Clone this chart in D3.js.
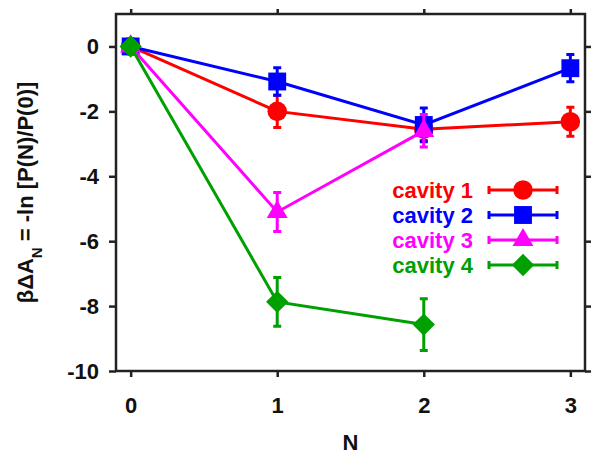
<!DOCTYPE html>
<html>
<head>
<meta charset="utf-8">
<script src="https://cdn.jsdelivr.net/npm/d3@7"></script>
<style>
  body { margin: 0; background: #fff; }
  text { font-family: "Liberation Sans", Arial, sans-serif; font-weight: bold; }
</style>
</head>
<body>
<div id="chart"></div>
<script>
var svgWidth = 600;
var svgHeight = 456;

var margin = { top: 14, right: 15, bottom: 85, left: 116 };
var width = svgWidth - margin.left - margin.right;
var height = svgHeight - margin.top - margin.bottom;

// data
var nValues = [0, 1, 2, 3];
var xTicks = [0, 1, 2, 3];
var yTicks = [0, -2, -4, -6, -8, -10];

var cavity1 = [0, -2.0, -2.55, -2.32];
var cavity1Err = [0.1, 0.5, 0.35, 0.45];
var cavity2 = [0, -1.08, -2.42, -0.67];
var cavity2Err = [0.15, 0.42, 0.52, 0.42];
var cavity3 = [0, -5.1, -2.6];
var cavity3Err = [0.15, 0.6, 0.5];
var cavity4 = [0, -7.87, -8.57];
var cavity4Err = [0.1, 0.75, 0.8];

var seriesNames = ["cavity 1", "cavity 2", "cavity 3", "cavity 4"];
var seriesColors = ["#ff0000", "#0000ff", "#ff00ff", "#00a000"];

var series = [
    { name: seriesNames[0], color: seriesColors[0], vals: cavity1, errs: cavity1Err, shape: "circle" },
    { name: seriesNames[1], color: seriesColors[1], vals: cavity2, errs: cavity2Err, shape: "square" },
    { name: seriesNames[2], color: seriesColors[2], vals: cavity3, errs: cavity3Err, shape: "triangle" },
    { name: seriesNames[3], color: seriesColors[3], vals: cavity4, errs: cavity4Err, shape: "diamond" }
];

var svg = d3.select("#chart")
    .append("svg")
    .attr("width", svgWidth)
    .attr("height", svgHeight);

var chartGroup = svg.append("g")
    .attr("transform", `translate(${margin.left}, ${margin.top})`);

var xScale = d3.scaleLinear().domain([-0.1, 3.1]).range([0, width]);
var yScale = d3.scaleLinear().domain([-10, 1]).range([height, 0]);

/********************************************************/

function markerPath(shape) {
    if (shape == "circle") return d3.symbol(d3.symbolCircle, 300)();
    if (shape == "square") return d3.symbol(d3.symbolSquare, 320)();
    if (shape == "triangle") return d3.symbol(d3.symbolTriangle, 190)();
    return d3.symbol(d3.symbolSquare, 250)();
}

function markerRotate(shape) {
    return shape == "diamond" ? " rotate(45)" : "";
}

/********************************************************/

// axes with outward ticks on all four sides
chartGroup.append("g")
    .attr("transform", `translate(0, ${height})`)
    .call(d3.axisBottom(xScale).tickValues(xTicks).tickSize(6).tickPadding(20).tickFormat(d => String(d)))
    .call(g => g.select(".domain").remove());

chartGroup.append("g")
    .call(d3.axisTop(xScale).tickValues(xTicks).tickSize(5).tickFormat(""))
    .call(g => g.select(".domain").remove());

chartGroup.append("g")
    .call(d3.axisLeft(yScale).tickValues(yTicks).tickSize(7).tickPadding(10).tickFormat(d => String(d)))
    .call(g => g.select(".domain").remove());

chartGroup.append("g")
    .attr("transform", `translate(${width}, 0)`)
    .call(d3.axisRight(yScale).tickValues(yTicks).tickSize(6).tickFormat(""))
    .call(g => g.select(".domain").remove());

chartGroup.selectAll(".tick line").attr("stroke", "#222").attr("stroke-width", 2.5);
chartGroup.selectAll(".tick text")
    .attr("font-size", 22)
    .attr("font-family", "'Liberation Sans', Arial, sans-serif")
    .attr("font-weight", "bold")
    .attr("fill", "#111");

chartGroup.append("rect")
    .attr("width", width)
    .attr("height", height)
    .attr("fill", "none")
    .attr("stroke", "#222")
    .attr("stroke-width", 2.5);

/********************************************************/

var line = d3.line()
    .x((d, i) => xScale(nValues[i]))
    .y(d => yScale(d));

series.forEach(function (s) {
    var g = chartGroup.append("g");
    var pts = s.vals.map((v, i) => ({ n: nValues[i], v: v, e: s.errs[i] }));

    g.append("path")
        .datum(s.vals)
        .attr("d", line)
        .attr("fill", "none")
        .attr("stroke", s.color)
        .attr("stroke-width", 3);

    g.selectAll(".ebar")
        .data(pts)
        .enter()
        .append("path")
        .attr("d", function (d) {
            var x = xScale(d.n), y1 = yScale(d.v + d.e), y2 = yScale(d.v - d.e);
            return `M${x - 4},${y1}H${x + 4}M${x},${y1}V${y2}M${x - 4},${y2}H${x + 4}`;
        })
        .attr("fill", "none")
        .attr("stroke", s.color)
        .attr("stroke-width", 3);

    g.selectAll(".mark")
        .data(pts)
        .enter()
        .append("path")
        .attr("d", markerPath(s.shape))
        .attr("transform", d => `translate(${xScale(d.n)}, ${yScale(d.v)})` + markerRotate(s.shape))
        .attr("fill", s.color);
});

/********************************************************/

// legend
var legend = chartGroup.append("g")
    .attr("transform", "translate(357, 176)");

series.forEach(function (s, i) {
    var row = legend.append("g").attr("transform", `translate(0, ${i * 25})`);
    row.append("text")
        .attr("x", 0)
        .attr("y", 8)
        .attr("text-anchor", "end")
        .attr("font-size", 22)
        .attr("fill", s.color)
        .text(s.name);
    row.append("path")
        .attr("d", "M16,-4V4M16,0H84M84,-4V4")
        .attr("fill", "none")
        .attr("stroke", s.color)
        .attr("stroke-width", 3);
    row.append("path")
        .attr("d", markerPath(s.shape))
        .attr("transform", "translate(50, 0)" + markerRotate(s.shape))
        .attr("fill", s.color);
});

/********************************************************/

chartGroup.append("text")
    .attr("transform", `translate(${width / 2}, ${height + 79})`)
    .attr("text-anchor", "middle")
    .attr("font-size", 22)
    .attr("fill", "#111")
    .text("N");

var yLabel = svg.append("text")
    .attr("transform", `translate(33, ${margin.top + height / 2}) rotate(-90)`)
    .attr("text-anchor", "middle")
    .attr("font-size", 22)
    .attr("fill", "#111");
yLabel.append("tspan").text("βΔA");
yLabel.append("tspan").attr("baseline-shift", "sub").attr("font-size", 15).text("N");
yLabel.append("tspan").text(" = -ln [P(N)/P(0)]");
</script>
</body>
</html>
